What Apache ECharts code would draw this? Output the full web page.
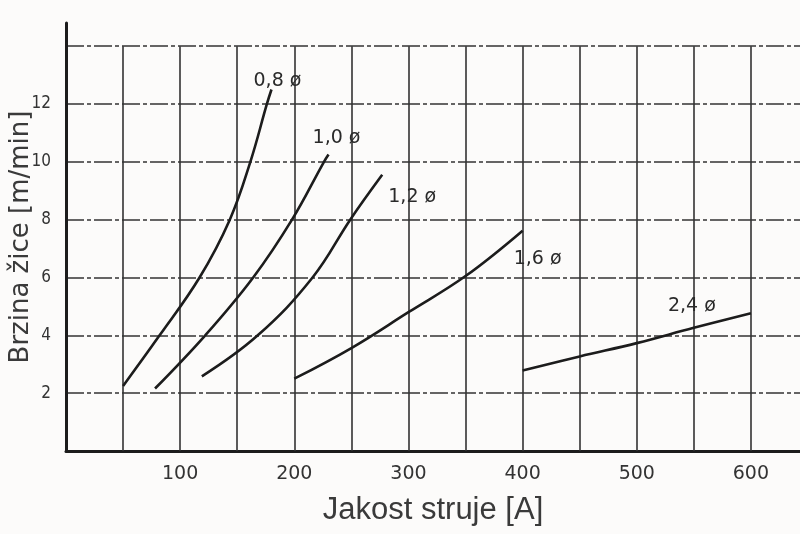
<!DOCTYPE html>
<html>
<head>
<meta charset="utf-8">
<script src="https://cdn.jsdelivr.net/npm/echarts@6/dist/echarts.min.js"></script>
<style>
  html, body { margin: 0; padding: 0; background: #ffffff; }
  #chart { width: 800px; height: 534px; }
</style>
</head>
<body>
<div id="chart"></div>
<script>
// Wire feed speed [m/min] against welding current [A], one curve per wire diameter.
const wire08 = [[50, 2.25], [82, 4], [117, 6], [143.5, 8], [161.5, 10], [176, 12], [180, 12.5]];
const wire10 = [[78, 2.16], [122, 4], [164, 6], [198, 8], [226, 10], [230, 10.25]];
const wire12 = [[119, 2.58], [168, 4], [216, 6], [249, 8], [277, 9.55]];
const wire16 = [[200, 2.5], [250, 3.56], [300, 4.8], [350, 6.05], [400, 7.62]];
const wire24 = [[400, 2.78], [450, 3.27], [500, 3.73], [550, 4.26], [600, 4.76]];

const curveNames = ['0,8 ø', '1,0 ø', '1,2 ø', '1,6 ø', '2,4 ø'];
const curves = [wire08, wire10, wire12, wire16, wire24];
// where each diameter tag sits relative to the end of its curve (px)
const tagOffsets = [[6, -8], [8, -17], [30, 22], [15, 28], [-59, -7]];

const xTickLabels = [100, 200, 300, 400, 500, 600];
const yTickLabels = [2, 4, 6, 8, 10, 12];
const gridX = [50, 100, 150, 200, 250, 300, 350, 400, 450, 500, 550, 600];
const gridTop = 14;

const ink = '#1c1c1c';
const gridInk = '#333333';

const chart = echarts.init(document.getElementById('chart'), null, { renderer: 'canvas' });

const series = curves.map((pts, i) => ({
  name: curveNames[i],
  type: 'line',
  data: pts,
  smooth: 0.4,
  showSymbol: false,
  symbol: 'none',
  lineStyle: { color: ink, width: 2.6 },
  z: 5,
  markPoint: {
    silent: true,
    symbol: 'circle',
    symbolSize: 1,
    itemStyle: { color: 'rgba(0,0,0,0)' },
    label: {
      show: true,
      position: 'inside',
      offset: tagOffsets[i],
      formatter: curveNames[i],
      color: '#2a2a2a',
      fontFamily: 'DejaVu Sans',
      fontSize: 19
    },
    data: [{ coord: pts[pts.length - 1] }]
  }
}));

// vertical rulings stop at the top horizontal line
series.push({
  name: 'rulings',
  type: 'line',
  data: [],
  silent: true,
  z: 1,
  markLine: {
    silent: true,
    symbol: 'none',
    label: { show: false },
    lineStyle: { color: gridInk, width: 1.6, type: 'solid' },
    data: gridX.map(x => [{ coord: [x, 0] }, { coord: [x, gridTop] }])
  }
});

chart.setOption({
  backgroundColor: '#fcfbfa',
  animation: false,
  grid: { left: 66, right: 0, top: 23, bottom: 83, containLabel: false, outerBoundsMode: 'none' },
  xAxis: {
    type: 'value',
    min: 0,
    max: 643,
    interval: 50,
    name: 'Jakost struje [A]',
    nameLocation: 'middle',
    nameGap: 44,
    nameMoveOverlap: false,
    nameTextStyle: { color: '#3a3a3a', fontFamily: 'Liberation Sans', fontSize: 31 },
    axisLine: { show: true, onZero: false, lineStyle: { color: ink, width: 3 } },
    axisTick: { show: false },
    splitLine: { show: false },
    axisLabel: {
      margin: 14,
      color: '#333',
      fontFamily: 'DejaVu Sans',
      fontSize: 19,
      showMaxLabel: false,
      formatter: v => (xTickLabels.indexOf(v) >= 0 ? String(v) : '')
    }
  },
  yAxis: {
    type: 'value',
    min: 0,
    max: 14.8,
    interval: 2,
    name: 'Brzina žice [m/min]',
    nameLocation: 'middle',
    nameGap: 32,
    nameRotate: 90,
    nameMoveOverlap: false,
    nameTextStyle: { color: '#3a3a3a', fontFamily: 'DejaVu Sans', fontSize: 26 },
    axisLine: { show: true, onZero: false, lineStyle: { color: ink, width: 3 } },
    axisTick: { show: false },
    splitLine: {
      show: true,
      showMinLine: false,
      showMaxLine: false,
      lineStyle: { color: gridInk, width: 1.6, type: [18, 3, 4, 3] }
    },
    axisLabel: {
      margin: 15,
      color: '#333',
      fontFamily: '"Liberation Sans Narrow", "DejaVu Sans Condensed", sans-serif',
      fontSize: 17,
      showMaxLabel: false,
      formatter: v => (yTickLabels.indexOf(v) >= 0 ? String(v) : '')
    }
  },
  series: series
});
</script>
</body>
</html>
